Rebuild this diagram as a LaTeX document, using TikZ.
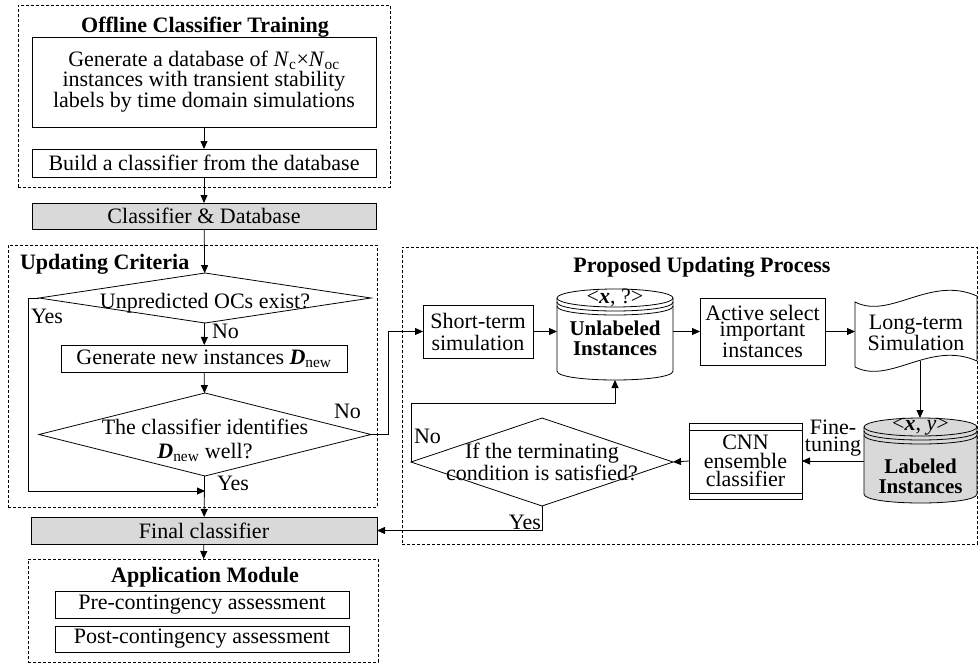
\documentclass[tikz,border=0pt]{standalone}
\usepackage{fontspec}
\setmainfont{Liberation Serif}
\usetikzlibrary{arrows.meta,shapes.geometric}
\definecolor{boxgray}{RGB}{217,217,217}
\begin{document}
\begin{tikzpicture}[x=1pt,y=-1pt,
  every node/.style={font=\fontsize{22}{20}\selectfont, inner sep=0pt, outer sep=0pt},
  box/.style={draw, line width=0.8pt, align=center},
  grp/.style={draw, dash pattern=on 3pt off 2pt, line width=0.7pt},
  arr/.style={-{Triangle[length=8pt,width=7pt]}, line width=0.8pt},
  ln/.style={line width=0.8pt},
  dia/.style={diamond, draw, line width=0.8pt},
  ttl/.style={font=\fontsize{22}{20}\selectfont\bfseries},
  lbl/.style={anchor=base west},
  cyl/.style={line width=0.8pt}]
\useasboundingbox (0,0) rectangle (979,666);

% group frames
\node[grp, minimum width=372pt, minimum height=182pt] (offg) at (204,96) {};
\node[grp, minimum width=369pt, minimum height=262pt] (updg) at (192.5,376) {};
\node[grp, minimum width=575pt, minimum height=297pt] (prog) at (689.5,395.5) {};
\node[grp, minimum width=350pt, minimum height=103pt] (appg) at (203,610.5) {};

% titles
\node[ttl, anchor=base] (t1) at (205,33) {Offline Classifier Training};
\node[ttl, anchor=base west] (t2) at (20,269) {Updating Criteria};
\node[ttl, anchor=base] (t3) at (702,272) {Proposed Updating Process};
\node[ttl, anchor=base] (t4) at (205,582) {Application Module};

% left column
\node[box, minimum width=344pt, minimum height=90pt] (b1) at (204,82)
  {Generate a database of \textit{N}\textsubscript{c}×\textit{N}\textsubscript{oc}\\
   instances with transient stability\\ labels by time domain simulations};
\node[box, minimum width=344pt, minimum height=28pt] (b2) at (204,163) {Build a classifier from the database};
\node[box, fill=boxgray, minimum width=344pt, minimum height=26pt] (cd) at (204,216) {Classifier \& Database};

\node[dia, minimum width=332pt, minimum height=50pt] (d1) at (205,298) {};
\node[anchor=base] (d1t) at (205,308) {Unpredicted OCs exist?};
\node[box, minimum width=286pt, minimum height=27pt] (gen) at (204,358.5)
  {Generate new instances \textbf{\textit{D}}\textsubscript{new}};
\node[dia, minimum width=332pt, minimum height=83pt] (d2) at (205,434.5) {};
\node[align=center, font=\fontsize{22}{24}\selectfont] (d2t) at (205,440)
  {The classifier identifies\\ \textbf{\textit{D}}\textsubscript{new} well?};

\node[box, fill=boxgray, minimum width=346pt, minimum height=27pt] (fin) at (204,530.5) {Final classifier};
\node[box, minimum width=294pt, minimum height=27pt] (pre) at (202,604.5) {Pre-contingency assessment};
\node[box, minimum width=294pt, minimum height=26pt] (post) at (202,639) {Post-contingency assessment};

% right part
\node[box, minimum width=110pt, minimum height=53pt, font=\fontsize{22}{22}\selectfont] (st) at (478,331.5) {Short-term\\simulation};
\node[box, minimum width=125pt, minimum height=67pt, font=\fontsize{22}{16}\selectfont] (act) at (762.5,331.5) {Active select\\important\\instances};
\node[box, minimum width=113pt, minimum height=76pt, font=\fontsize{22}{18.5}\selectfont] (cnn) at (745.5,461) {CNN\\ensemble\\classifier};
\draw[ln] (cnn.north west) ++(0,7) -- ++(113,0);
\draw[ln] (cnn.south west) ++(0,-6) -- ++(113,0);

\node[dia, minimum width=262pt, minimum height=88pt] (d3) at (542,462) {};
\node[align=center, font=\fontsize{22}{18}\selectfont] (d3t) at (542,462)
  {If the terminating\\condition is satisfied?};

% unlabeled cylinder
\draw[cyl, fill=white] (557,298) -- (557,371) .. controls (557,383) and (673,383) .. (673,371) -- (673,298);
\draw[cyl, fill=white] (615,298) ellipse [x radius=58pt, y radius=9pt];
\draw[cyl] (557,302) .. controls (557,314) and (673,314) .. (673,302);
\draw[cyl] (557,306) .. controls (557,318) and (673,318) .. (673,306);
\node (unl) at (615,334.5) [minimum width=116pt, minimum height=91pt] {};
\node (unlx) at (615,298) {<\textbf{\textit{x}}, ?>};
\node[align=center, font=\fontsize{21}{20}\selectfont\bfseries] (unlt) at (615,338) {Unlabeled\\Instances};

% labeled cylinder
\draw[cyl, fill=boxgray] (864,427) -- (864,494) .. controls (864,506) and (977,506) .. (977,494) -- (977,427);
\draw[cyl, fill=boxgray] (920.5,427) ellipse [x radius=56.5pt, y radius=9pt];
\draw[cyl] (864,431) .. controls (864,443) and (977,443) .. (977,431);
\draw[cyl] (864,435) .. controls (864,447) and (977,447) .. (977,435);
\node (lab) at (920.5,460.5) [minimum width=113pt, minimum height=85pt] {};
\node (labx) at (920.5,427) {<\textbf{\textit{x}}, \textit{y}>};
\node[align=center, font=\fontsize{21}{20}\selectfont\bfseries] (labt) at (920.5,476) {Labeled\\Instances};

% long-term tape
\draw[ln, fill=white] (855,302) .. controls (890,320) and (930,275) .. (977,296) -- (977,361)
   .. controls (930,340) and (890,385) .. (855,367) -- cycle;
\node (lt) at (916,333) [minimum width=122pt, minimum height=70pt] {};
\node[align=center] (ltt) at (916,333) {Long-term\\Simulation};
\coordinate (ltb) at (920,361);

% labels
\node[lbl] (y1) at (31,323) {Yes};
\node[lbl] (n1) at (212,338) {No};
\node[lbl] (n2) at (334,418) {No};
\node[lbl] (y2) at (217,490) {Yes};
\node[lbl] (n3) at (414,443) {No};
\node[anchor=base east] (y3) at (541,529) {Yes};
\node[align=center, font=\fontsize{22}{17}\selectfont] (ft) at (833,438) {Fine-\\tuning};

% coordinates
\coordinate (c1) at (28,298);
\coordinate (c2) at (28,491);
\coordinate (c3) at (205,491);
\coordinate (c4) at (388,434.5);
\coordinate (c5) at (411,403);

% connectors
\draw[arr] (b1) -- (b2);
\draw[arr] (b2) -- (cd);
\draw[arr] (cd) -- (d1);
\draw[arr] (d1) -- (gen);
\draw[arr] (gen) -- (d2);
\draw[arr] (d2) -- (fin);
\draw[arr] (d1.west) -- (c1) -- (c2) -- (c3);
\draw[arr] (d2.east) -- (c4) |- (st.west);
\draw[arr] (st.east) -- (st.east -| unl.west);
\draw[arr] (unl.east |- act.west) -- (act.west);
\draw[arr] (act.east) -- (act.east -| lt.west);
\draw[arr] (ltb) -- (ltb |- lab.north);
\draw[arr] (lab.west |- cnn.east) -- (cnn.east);
\draw[arr] (cnn.west) -- (d3.east);
\draw[arr] (d3.west) -- (c5) -| (unl.south);
\draw[arr] (d3.south) |- (fin.east);
\draw[arr] (fin) -- (appg);
\end{tikzpicture}
\end{document}
